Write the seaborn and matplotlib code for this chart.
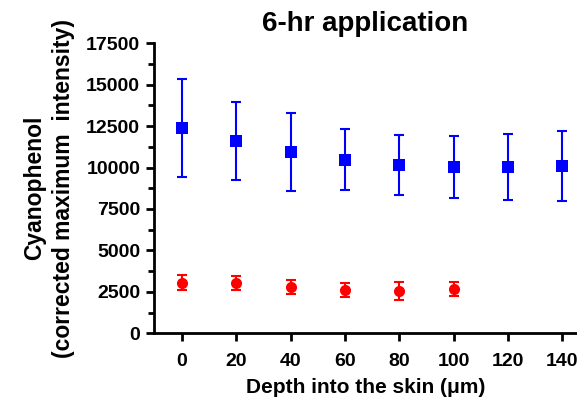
import matplotlib
matplotlib.use("Agg")
import matplotlib.pyplot as plt
import seaborn as sns
import pandas as pd
import numpy as np
from matplotlib.ticker import MultipleLocator

sns.set_style("ticks")
plt.rcParams['font.family'] = ['Liberation Sans', 'DejaVu Sans']
plt.rcParams['font.weight'] = 'bold'
plt.rcParams['text.color'] = 'black'
plt.rcParams['axes.labelcolor'] = 'black'
plt.rcParams['xtick.color'] = 'black'
plt.rcParams['ytick.color'] = 'black'
plt.rcParams['axes.edgecolor'] = 'black'

depth_blue = [0, 20, 40, 60, 80, 100, 120, 140]
mean_blue = [12400, 11600, 10950, 10480, 10140, 10020, 10020, 10080]
err_blue = [2970, 2380, 2370, 1850, 1800, 1880, 1980, 2110]

depth_red = [0, 20, 40, 60, 80, 100]
mean_red = [3060, 3020, 2780, 2630, 2560, 2660]
err_red = [450, 420, 410, 420, 550, 410]

x_ticks = [0, 20, 40, 60, 80, 100, 120, 140]
y_ticks = [0, 2500, 5000, 7500, 10000, 12500, 15000, 17500]

df_blue = pd.DataFrame({"depth": depth_blue, "value": mean_blue, "err": err_blue})
df_red = pd.DataFrame({"depth": depth_red, "value": mean_red, "err": err_red})

fig = plt.figure(figsize=(5.77, 4.04), dpi=100)
ax = fig.add_axes([0.267, 0.175, 0.733, 0.718])

for df, color, marker, ms in [(df_blue, "#0000FF", "s", 9), (df_red, "#FF0000", "o", 8)]:
    ax.errorbar(df["depth"], df["value"], yerr=df["err"], fmt="none",
                ecolor=color, elinewidth=1.5, capsize=3.8, capthick=1.5, zorder=2)
    sns.scatterplot(data=df, x="depth", y="value", ax=ax, color=color,
                    marker=marker, s=ms**2, edgecolor=color, linewidth=0, zorder=3,
                    legend=False)

ax.set_xlim(-10.2, 145.4)
ax.set_ylim(0, 17500)
ax.set_xticks(x_ticks)
ax.set_yticks(y_ticks)
ax.yaxis.set_minor_locator(MultipleLocator(1250))
ax.set_xticklabels([str(t) for t in x_ticks], fontsize=14, fontweight='bold', color='black')
ax.set_yticklabels([str(t) for t in y_ticks], fontsize=14, fontweight='bold', color='black')

for s in ["top", "right"]:
    ax.spines[s].set_visible(False)
for s in ["left", "bottom"]:
    ax.spines[s].set_linewidth(2)
    ax.spines[s].set_color("black")
ax.spines["left"].set_bounds(0, 17500)

ax.tick_params(axis="both", which="major", direction="out", length=6, width=2, color="black",
               labelcolor="black", pad=4)
ax.tick_params(axis="y", which="minor", direction="out", length=4, width=2, color="black")
ax.tick_params(axis="x", pad=8)

ax.set_xlabel("Depth into the skin (\u03bcm)", fontsize=15, fontweight='bold', labelpad=6, color='black')
ax.set_ylabel("Cyanophenol\n(corrected maximum  intensity)", fontsize=16.5, fontweight='bold',
              labelpad=8, linespacing=1.3, color='black')
ax.set_title("6-hr application", fontsize=20, fontweight='bold', pad=9, color='black')

fig.savefig("out.png", dpi=100)
